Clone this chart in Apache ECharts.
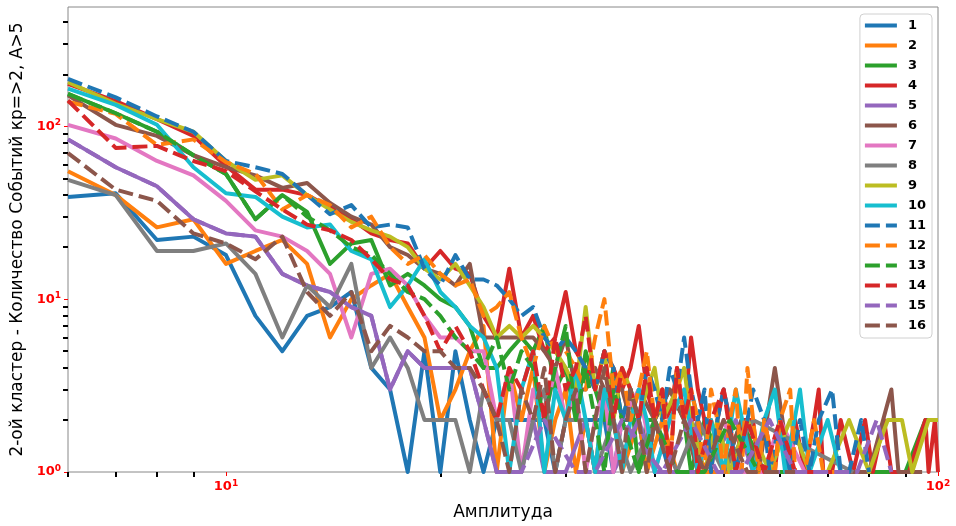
<!DOCTYPE html>
<html>
<head>
<meta charset="utf-8">
<script src="https://cdn.jsdelivr.net/npm/echarts/dist/echarts.min.js"></script>
<style>
  html, body { margin: 0; padding: 0; background: #fff; }
  #chart { width: 956px; height: 526px; }
</style>
</head>
<body>
<div id="chart"></div>
<script>
// amplitude / event count pairs per cluster run (only amplitudes with events)
var s1 = [[6,39],[7,41],[8,22],[9,23],[10,18],[11,8],[12,5],[13,8],[14,9],[15,11],[16,4],[17,3],[18,1],[19,5],[20,1],[21,5],[22,2],[23,1],[24,2],[25,2],[26,2],[27,2],[28,2],[29,1],[30,2],[31,2],[32,2],[34,2],[35,1],[36,2],[38,2],[39,1],[40,2],[42,1],[44,1],[46,1],[49,1],[52,1],[55,1],[60,1]];
var s2 = [[6,55],[7,40],[8,26],[9,29],[10,16],[11,19],[12,22],[13,16],[14,6],[15,10],[16,12],[17,14],[18,9],[19,6],[20,2],[21,3],[22,5],[23,7],[24,1],[25,4],[26,2],[27,4],[28,1],[29,2],[30,3],[31,1],[32,2],[33,1],[34,3],[35,2],[36,1],[38,2],[39,1],[41,2],[43,1],[45,1],[48,1],[51,1],[56,1]];
var s3 = [[6,154],[7,119],[8,93],[9,68],[10,53],[11,29],[12,40],[13,32],[14,16],[15,21],[16,22],[17,12],[18,14],[19,12],[20,10],[21,9],[22,7],[23,4],[24,4],[25,5],[26,6],[27,5],[28,7],[29,3],[30,4],[31,2],[32,5],[33,3],[34,2],[35,4],[36,2],[37,3],[38,1],[39,2],[40,2],[42,3],[44,2],[45,1],[47,2],[50,1],[53,2],[57,1],[62,1],[90,1],[96,2],[100,2]];
var s4 = [[6,176],[7,140],[8,110],[9,88],[10,59],[11,43],[12,43],[13,40],[14,34],[15,29],[16,24],[17,22],[18,21],[19,15],[20,19],[21,15],[22,14],[23,8],[24,6],[25,15],[26,6],[27,8],[28,5],[29,6],[30,11],[31,5],[32,4],[33,3],[34,5],[35,4],[36,3],[37,4],[38,7],[39,3],[40,2],[41,3],[42,2],[43,4],[44,2],[45,6],[46,3],[47,2],[48,1],[49,2],[50,3],[51,2],[52,1],[53,2],[55,2],[56,1],[57,2],[59,1],[60,2],[62,1],[63,2],[65,1],[67,2],[68,3],[69,1],[71,1],[73,2],[76,1],[79,2],[81,1],[84,2],[86,1],[91,1],[96,2],[97,1],[99,2],[100,1]];
var s5 = [[6,84],[7,58],[8,45],[9,29],[10,24],[11,23],[12,14],[13,12],[14,11],[15,9],[16,8],[17,3],[18,5],[19,4],[20,4],[21,4],[22,4],[23,2],[24,1],[25,1],[26,1],[27,2],[28,1],[30,1],[32,2],[33,1],[35,1],[38,2],[40,1],[43,1],[47,1],[52,2],[55,1],[60,1]];
var s6 = [[6,151],[7,102],[8,88],[9,68],[10,58],[11,52],[12,44],[13,47],[14,36],[15,30],[16,27],[17,20],[18,18],[19,15],[20,14],[21,12],[22,16],[23,6],[24,6],[25,6],[26,6],[27,6],[28,5],[29,4],[30,6],[31,3],[32,3],[33,4],[34,3],[35,3],[36,3],[37,2],[38,3],[40,2],[42,3],[44,2],[46,1],[48,2],[50,1],[53,2],[56,1],[59,4],[62,1],[66,1],[70,1],[75,1],[80,1],[86,3],[88,1],[95,1]];
var s7 = [[6,102],[7,85],[8,63],[9,52],[10,37],[11,25],[12,23],[13,19],[14,14],[15,6],[16,14],[17,15],[18,12],[19,8],[20,6],[21,6],[22,5],[23,5],[24,2],[25,4],[26,1],[27,3],[28,2],[29,4],[30,2],[31,3],[32,1],[33,2],[34,3],[35,1],[36,2],[38,3],[40,1],[42,2],[44,3],[47,1],[50,2],[53,1],[57,1],[60,2],[65,1],[72,1]];
var s8 = [[6,49],[7,40],[8,19],[9,19],[10,21],[11,14],[12,6],[13,12],[14,9],[15,16],[16,4],[17,6],[18,4],[19,2],[20,2],[21,2],[22,1],[23,3],[24,2],[25,2],[26,1],[27,2],[28,3],[29,1],[30,2],[32,2],[33,1],[35,2],[37,1],[40,2],[43,1],[46,2],[50,1],[55,2],[76,1]];
var s9 = [[6,180],[7,135],[8,110],[9,93],[10,63],[11,49],[12,52],[13,40],[14,33],[15,28],[16,25],[17,23],[18,20],[19,15],[20,13],[21,16],[22,12],[23,9],[24,6],[25,7],[26,6],[27,7],[28,6],[29,5],[30,4],[31,3],[32,9],[33,3],[34,5],[35,2],[36,4],[37,3],[38,2],[39,3],[40,4],[41,2],[43,3],[44,4],[45,2],[47,1],[49,2],[51,1],[54,2],[58,1],[62,2],[66,1],[70,1],[75,2],[80,1],[85,2],[89,2],[92,1],[97,2],[100,2]];
var s10 = [[6,165],[7,133],[8,102],[9,58],[10,41],[11,39],[12,30],[13,26],[14,27],[15,19],[16,17],[17,9],[18,12],[19,17],[20,11],[21,9],[22,7],[23,6],[24,4],[25,1],[26,3],[27,5],[28,1],[29,3],[30,2],[31,4],[32,2],[33,1],[34,3],[35,2],[36,1],[37,2],[38,3],[39,2],[40,1],[42,2],[44,3],[46,1],[48,2],[50,1],[52,3],[55,1],[57,2],[59,3],[61,1],[64,3],[66,1],[70,2],[73,1]];
var s11 = [[6,188],[7,147],[8,114],[9,93],[10,63],[11,58],[12,53],[13,40],[14,31],[15,35],[16,26],[17,27],[18,26],[19,15],[20,12],[21,18],[22,13],[23,13],[24,12],[25,10],[26,8],[27,9],[28,6],[29,5],[30,6],[31,5],[32,4],[33,3],[34,5],[35,4],[36,2],[37,3],[38,2],[39,4],[40,3],[41,2],[42,4],[43,3],[44,6],[45,3],[46,2],[47,3],[48,1],[49,2],[50,3],[51,2],[52,1],[54,2],[55,3],[57,2],[58,1],[60,2],[62,1],[64,2],[66,1],[68,2],[71,3],[73,1],[75,1],[78,2],[80,1]];
var s12 = [[6,139],[7,118],[8,78],[9,84],[10,62],[11,53],[12,33],[13,40],[14,35],[15,26],[16,30],[17,20],[18,16],[19,18],[20,14],[21,12],[22,13],[23,8],[24,9],[25,11],[26,6],[27,4],[28,7],[29,5],[30,5],[31,4],[32,3],[33,6],[34,10],[35,3],[36,4],[37,2],[38,3],[39,5],[40,2],[41,3],[42,1],[43,4],[44,2],[45,3],[46,2],[47,1],[48,3],[49,2],[50,1],[51,2],[52,3],[53,1],[54,4],[55,2],[56,1],[57,2],[59,1],[60,2],[62,3],[63,1],[65,1],[67,2],[69,1],[72,1]];
var s13 = [[6,154],[7,119],[8,93],[9,68],[10,53],[11,29],[12,40],[13,30],[14,25],[15,20],[16,18],[17,14],[18,11],[19,10],[20,8],[21,6],[22,5],[23,4],[24,6],[25,3],[26,5],[27,4],[28,2],[29,4],[30,7],[31,2],[32,4],[33,2],[34,1],[35,3],[36,2],[38,1],[40,2],[43,1],[47,1],[51,2],[56,1]];
var s14 = [[6,141],[7,75],[8,77],[9,63],[10,55],[11,42],[12,33],[13,27],[14,25],[15,22],[16,17],[17,13],[18,12],[19,8],[20,5],[21,7],[22,5],[23,3],[24,2],[25,4],[26,3],[27,5],[28,2],[29,6],[30,3],[31,4],[32,8],[33,3],[34,5],[35,2],[36,4],[37,3],[38,2],[39,4],[40,2],[41,3],[42,1],[43,4],[44,2],[45,3],[46,1],[48,2],[50,3],[52,1],[54,2],[57,1],[60,2],[63,1],[67,1],[71,1]];
var s15 = [[6,84],[7,58],[8,45],[9,29],[10,24],[11,23],[12,14],[13,12],[14,11],[15,9],[16,8],[17,3],[18,5],[19,4],[20,4],[21,4],[22,4],[23,2],[24,1],[26,1],[28,2],[31,1],[33,1],[36,2],[41,1],[45,2],[49,1],[53,1],[58,2],[63,1],[70,1],[77,1],[82,2],[86,1]];
var s16 = [[6,70],[7,43],[8,37],[9,24],[10,21],[11,17],[12,23],[13,11],[14,8],[15,11],[16,5],[17,7],[18,6],[19,5],[20,5],[21,4],[22,4],[23,3],[24,2],[25,1],[26,3],[27,2],[28,4],[29,1],[30,2],[31,3],[32,1],[33,2],[34,4],[35,2],[36,1],[37,3],[38,2],[39,1],[40,2],[42,1],[44,2],[47,1],[50,2],[54,1],[58,1],[63,1]];

var seriesNames = ["1","2","3","4","5","6","7","8","9","10","11","12","13","14","15","16"];
var seriesData = [s1,s2,s3,s4,s5,s6,s7,s8,s9,s10,s11,s12,s13,s14,s15,s16];

// tick positions (log axes)
var xMajor = [10, 100];
var xMinor = [6, 7, 8, 9, 20, 30, 40, 50, 60, 70, 80, 90];
var yMajor = [1, 10, 100];
var yMinor = [2, 3, 4, 5, 6, 7, 8, 9, 20, 30, 40, 50, 60, 70, 80, 90, 200, 300, 400];

var tab10 = ["#1f77b4", "#ff7f0e", "#2ca02c", "#d62728", "#9467bd",
             "#8c564b", "#e377c2", "#7f7f7f", "#bcbd22", "#17becf"];

var chart = echarts.init(document.getElementById("chart"));

var font = "DejaVu Sans";
var powRich = {
  b: { color: "#ff0000", fontWeight: "bold", fontSize: 13, fontFamily: font },
  s: { color: "#ff0000", fontWeight: "bold", fontSize: 9, fontFamily: font, padding: [0, 0, 7, 0] }
};
function powLabel(v) {
  return "{b|10}{s|" + Math.round(Math.log10(v)) + "}";
}

function minorAxis(dim) {
  return {
    type: "log",
    logBase: 10,
    min: dim === "x" ? 6 : 1,
    max: dim === "x" ? 100 : 490,
    position: dim === "x" ? "bottom" : "left",
    axisLine: { show: false },
    axisTick: {
      show: true,
      inside: false,
      length: 5,
      customValues: dim === "x" ? xMinor : yMinor,
      lineStyle: { color: "#000", width: 2 }
    },
    axisLabel: { show: false },
    splitLine: { show: false }
  };
}

var series = seriesData.map(function (d, i) {
  return {
    name: seriesNames[i],
    type: "line",
    data: d,
    showSymbol: false,
    symbol: "none",
    color: tab10[i % 10],
    lineStyle: {
      width: 4,
      color: tab10[i % 10],
      type: i < 10 ? "solid" : [15, 6],
      join: "round"
    },
    emphasis: { disabled: true },
    animation: false
  };
});

var option = {
  animation: false,
  grid: {
    left: 68,
    right: 18,
    top: 7,
    bottom: 48,
    show: true,
    borderColor: "#888",
    borderWidth: 1
  },
  legend: {
    orient: "vertical",
    right: 24,
    top: 14,
    itemWidth: 32,
    itemHeight: 14,
    itemGap: 7,
    padding: [5, 6, 6, 3],
    backgroundColor: "rgba(255,255,255,0.8)",
    borderColor: "#d0d0d0",
    borderWidth: 1,
    borderRadius: 4,
    selectedMode: false,
    itemStyle: { opacity: 0 },
    lineStyle: { width: 4 },
    textStyle: {
      color: "#000",
      fontWeight: "bold",
      fontSize: 13,
      fontFamily: font,
      padding: [0, 0, 0, 6]
    },
    data: seriesNames
  },
  xAxis: [
    {
      type: "log",
      logBase: 10,
      min: 6,
      max: 100,
      position: "bottom",
      name: "Амплитуда",
      nameLocation: "middle",
      nameGap: 32,
      nameTextStyle: { color: "#000", fontSize: 17, fontFamily: font },
      axisLine: { show: false },
      axisTick: {
        show: true,
        length: 4,
        customValues: xMajor,
        lineStyle: { color: "#ff0000", width: 1 }
      },
      axisLabel: {
        show: true,
        margin: 7,
        customValues: xMajor,
        formatter: powLabel,
        rich: powRich
      },
      splitLine: { show: false }
    },
    minorAxis("x")
  ],
  yAxis: [
    {
      type: "log",
      logBase: 10,
      min: 1,
      max: 490,
      position: "left",
      name: "2-ой кластер - Количество Событий кр=>2, A>5",
      nameLocation: "middle",
      nameGap: 26,
      nameRotate: 90,
      nameTextStyle: { color: "#000", fontSize: 17, fontFamily: font },
      axisLine: { show: false },
      axisTick: {
        show: true,
        length: 4,
        customValues: yMajor,
        lineStyle: { color: "#ff0000", width: 1 }
      },
      axisLabel: {
        show: true,
        margin: 7,
        customValues: yMajor,
        formatter: powLabel,
        rich: powRich
      },
      splitLine: { show: false }
    },
    minorAxis("y")
  ],
  series: series
};

chart.setOption(option);
</script>
</body>
</html>
